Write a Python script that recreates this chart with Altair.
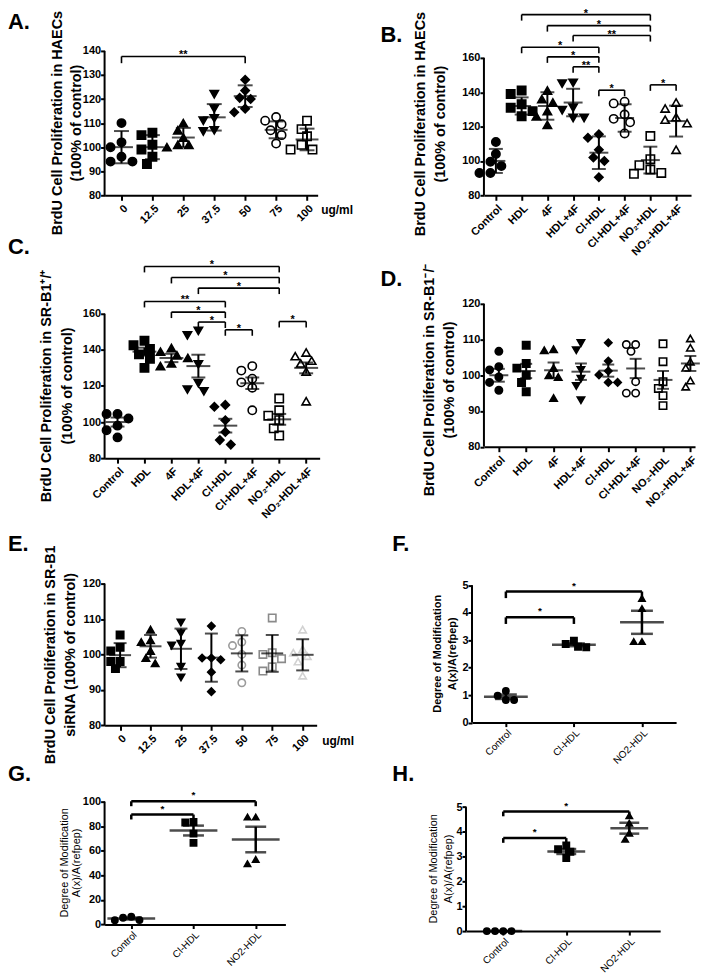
import json
import altair as alt
import pandas as pd

FONT = "Liberation Sans"

# ---------------- categories ----------------
DOSE = ["0", "12.5", "25", "37.5", "50", "75", "100"]
TREAT = ["Control", "HDL", "4F", "HDL+4F", "Cl-HDL", "Cl-HDL+4F", "NO\u2082-HDL", "NO\u2082-HDL+4F"]
MOD = ["Control", "Cl-HDL", "NO2-HDL"]

# ---------------- panel A (HAECs, dose) ----------------
A_vals = [
    [110, 102, 100, 96, 94, 94],
    [106, 105, 101, 99, 96, 93],
    [110, 107, 104, 101, 100, 101],
    [122, 116, 112, 111, 107, 106.5],
    [128, 123.5, 120.5, 120, 116, 114.5],
    [112.5, 111, 109.5, 107, 105, 101.5],
    [111, 107.5, 104.5, 101, 99, 99],
]
A_mean = [100, 100, 104, 112.4, 121.2, 107.2, 103.2]
A_err = [6.7, 5, 4, 5.5, 4.5, 3.5, 4.5]
A_brackets = [(0, 4, 137.7, "**")]

# ---------------- panel B (HAECs, treatments) ----------------
B_vals = [
    [111, 104, 99.5, 97, 93, 93],
    [141, 139, 133, 131, 129, 126],
    [141, 136, 134, 129, 126, 121],
    [145.5, 145, 131, 129.5, 125, 125],
    [115.5, 113.5, 106.5, 102, 100, 90.5],
    [134.5, 133.5, 127, 124.5, 122.5, 116],
    [114.5, 101, 97.5, 95, 93, 92.5],
    [134, 130.5, 125.5, 124, 122, 106.5],
]
B_mean = [100, 132, 132, 134, 104.8, 125, 100.5, 123.2]
B_err = [7, 5, 8, 8, 9.5, 8, 7.8, 9]
B_brackets = [(1, 6, 185.2, "*"), (2, 6, 178.8, "*"), (3, 6, 173.0, "**"),
              (1, 4, 166.2, "*"), (2, 4, 160.6, "*"), (3, 4, 154.8, "**"),
              (4, 5, 141.2, "*"), (6, 7, 144.3, "*")]

# ---------------- panel C (SR-B1 +/+) ----------------
C_vals = [
    [104.5, 104.5, 102, 98, 95.5, 91.5],
    [145, 142.5, 140.5, 137.5, 135, 130],
    [141, 139, 137, 135.5, 132.5, 131],
    [150.5, 148, 132, 121.5, 118, 117],
    [109.5, 108.5, 101, 94.5, 90, 87.5],
    [131, 128.5, 124, 122, 119, 106.5],
    [113, 106.5, 103.5, 101, 96.5, 92.5],
    [138.5, 136.5, 134, 132.5, 128, 111.5],
]
C_mean = [100, 139, 135.5, 131, 98, 121.5, 101.5, 130]
C_err = [2.5, 2.2, 2.3, 6.3, 3.8, 3.2, 3.0, 3.0]
C_brackets = [(1, 6, 186.2, "*"), (2, 6, 180.1, "*"), (3, 6, 174.2, "*"),
              (1, 4, 166.8, "**"), (2, 4, 160.9, "*"), (3, 4, 155.4, "*"),
              (4, 5, 151.1, "*"), (6, 7, 155.7, "*")]

# ---------------- panel D (SR-B1 -/-) ----------------
D_vals = [
    [106.7, 102.4, 101.5, 99.5, 98, 95.8],
    [108.4, 103.3, 102, 100, 98, 95.4],
    [107, 107.3, 102, 100, 99.5, 93.6],
    [109, 107, 101.5, 99, 97, 93],
    [109.1, 104, 101.2, 100.1, 98, 98],
    [108.6, 108.6, 106.7, 98.2, 95, 95],
    [108.8, 103.8, 98.2, 96.3, 94.3, 91.5],
    [110.3, 107.7, 103.8, 102.1, 98.5, 96.8],
]
D_mean = [100, 101.2, 101.4, 101, 101.3, 101.9, 98.7, 103.3]
D_err = [1.8, 2, 2.2, 2.3, 1.7, 2.7, 2.5, 2.1]

# ---------------- panel E (SR-B1 siRNA, dose) ----------------
E_vals = [
    [105.5, 102, 101, 98, 98, 96],
    [107, 104, 103.5, 101, 99, 97.5],
    [109, 106, 103, 102.5, 96.5, 93.5],
    [108, 99, 99, 98.5, 95, 89.5],
    [106.5, 103.5, 102.5, 100, 97, 92],
    [110.3, 100.5, 100, 98.8, 96.5, 95.3],
    [107, 101.5, 100.5, 99.5, 98, 94],
]
E_mean = [99.8, 102.3, 101.6, 99.1, 100.3, 100.3, 99.9]
E_err = [3.4, 3.2, 5.7, 6.8, 5.1, 5.2, 4.4]

# ---------------- panels F, G, H (degree of modification) ----------------
F_vals = [[1.15, 0.98, 0.82, 0.82], [2.98, 2.86, 2.76, 2.74], [4.52, 4.15, 2.95, 2.95]]
F_mean = [0.94, 2.83, 3.65]
F_err = [0.08, 0.05, 0.42]
F_brackets = [(0, 2, 4.77, "*"), (0, 1, 3.83, "*")]

G_vals = [[6.3, 5.5, 3.6, 3.5], [83.5, 83, 74, 66.5], [87.5, 87.5, 53, 49.5]]
G_mean = [4.9, 76.5, 69.2]
G_err = [0.8, 4, 10.4]
G_brackets = [(0, 2, 100.3, "*"), (0, 1, 89.5, "*")]

H_vals = [[0, 0, 0, 0], [3.45, 3.3, 3.2, 2.95], [4.65, 4.35, 3.95, 3.7]]
H_mean = [0, 3.21, 4.15]
H_err = [0, 0.1, 0.22]
H_brackets = [(0, 2, 4.82, "*"), (0, 1, 3.75, "*")]

# ---------------- marker styles ----------------
SH_DOSE = ["circle", "square", "triangle-up", "triangle-down", "diamond", "circle", "square"]
FI_DOSE = ["black"] * 5 + ["transparent"] * 2
ST_DOSE = ["black"] * 7
SH_TREAT = ["circle", "square", "triangle-up", "triangle-down", "diamond", "circle", "square", "triangle-up"]
FI_TREAT = ["black"] * 5 + ["transparent"] * 3
ST_TREAT = ["black"] * 8
SH_E = ["square", "triangle-up", "triangle-down", "diamond", "circle", "square", "triangle-up"]
FI_E = ["black"] * 4 + ["transparent"] * 3
ST_E = ["black"] * 4 + ["#9b9b9b", "#8a8a8a", "#d2d2d2"]
SH_MOD = ["circle", "square", "triangle-up"]
FI_MOD = ["black"] * 3
ST_MOD = ["black"] * 3

BRDU = "BrdU Cell Proliferation in "
DEG = ["Degree of Modification", "A(x)/A(refpep)"]


def swarm(vals, ppy, d):
    """Pixel x-offsets that keep symbols of one group from overlapping."""
    step = 0.55 * d
    placed, offs = [], [0.0] * len(vals)
    for i in sorted(range(len(vals)), key=lambda k: -vals[k]):
        py = vals[i] * ppy
        px = 0.0
        for c in [0, -1, 1, -2, 2, -3, 3, -4, 4, -5, 5]:
            px = c * step
            if all((px - qx) ** 2 + (py - qy) ** 2 >= (0.9 * d) ** 2 for qx, qy in placed):
                break
        placed.append((px, py))
        offs[i] = px
    return offs


def panel(c):
    cats = c["cats"]
    n = len(cats)
    x0, x1 = c["xdom"]
    y0, y1 = c["ydom"]
    w, h = c["w"], c["h"]
    ppx = w / (x1 - x0)
    ppy = h / (y1 - y0)

    rows = []
    for i, vs in enumerate(c["vals"]):
        offs = swarm(vs, ppy, c["diam"])
        for v, o in zip(vs, offs):
            rows.append(dict(x=i + o / ppx, y=v, shape=c["shapes"][i],
                             fill=c["fills"][i], stroke=c["strokes"][i]))
    pts = pd.DataFrame(rows)
    st = pd.DataFrame(dict(x=list(range(n)), m=c["mean"],
                           lo=[m - e for m, e in zip(c["mean"], c["err"])],
                           hi=[m + e for m, e in zip(c["mean"], c["err"])]))
    caps = pd.concat([pd.DataFrame(dict(x=st["x"], y=st["lo"])),
                      pd.DataFrame(dict(x=st["x"], y=st["hi"]))])

    xs = alt.Scale(domain=[x0, x1], nice=False, zero=False)
    ys = alt.Scale(domain=[y0, y1], nice=False, zero=False)
    xax_kw = dict(values=list(range(n)),
                  labelExpr=json.dumps(cats, ensure_ascii=False) + "[datum.value]",
                  labelAngle=-45, labelAlign="right", labelBaseline="top",
                  labelFontSize=c["xlfs"], labelFontWeight=c["xlw"], labelPadding=c["xlp"],
                  tickSize=c["xts"], tickWidth=2, domainWidth=2, labelOverlap=False)
    if c.get("xtitle"):
        xax_kw.update(title=c["xtitle"], titleAngle=0, titleAlign="left", titleBaseline="middle",
                      titleX=c["xtx"], titleY=c["xty"], titleFontSize=12, titleFontWeight="bold")
    else:
        xax_kw.update(title=None)
    xax = alt.Axis(**xax_kw)
    yax = alt.Axis(values=c["yticks"], domain=False, title=c["ytitle"],
                   titleFontSize=c["tfs"], titleFontWeight=c["tfw"],
                   titleX=c["tx"], titleY=c["ty"], titleAngle=-90, titleAlign="center",
                   titleBaseline="alphabetic", titleLineHeight=c["tlh"],
                   labelFontSize=11, labelFontWeight="bold",
                   labelPadding=0, tickSize=4, tickWidth=2)

    def X(f):
        return alt.X(f, type="quantitative", scale=xs, axis=xax)

    def Y(f):
        return alt.Y(f, type="quantitative", scale=ys, axis=yax)

    layers = []
    yl = pd.DataFrame(dict(x=[x0], y=[c["yline"][0]], y2=[c["yline"][1]]))
    layers.append(alt.Chart(yl).mark_rule(color="black", strokeWidth=2).encode(
        x=X("x"), y=Y("y"), y2="y2"))
    layers.append(alt.Chart(pts).mark_point(size=c["msize"], strokeWidth=1.6, opacity=1, filled=True).encode(
        x=X("x"), y=Y("y"),
        shape=alt.Shape("shape:N", scale=None),
        fill=alt.Fill("fill:N", scale=None),
        stroke=alt.Stroke("stroke:N", scale=None)))
    lw = c["lw"]
    layers.append(alt.Chart(st).mark_rule(color="black", strokeWidth=lw).encode(
        x=X("x"), y=Y("lo"), y2="hi"))
    layers.append(alt.Chart(caps).mark_tick(color="black", orient="horizontal", size=c["cap"], thickness=lw).encode(
        x=X("x"), y=Y("y")))
    layers.append(alt.Chart(st).mark_tick(color="black", orient="horizontal", size=c["mlen"], thickness=lw).encode(
        x=X("x"), y=Y("m")))

    if c.get("brackets"):
        b = pd.DataFrame(c["brackets"], columns=["a", "b", "y", "s"])
        b["ylo"] = b["y"] - c["leg"]
        b["xm"] = (b["a"] + b["b"]) / 2
        legs = pd.concat([pd.DataFrame(dict(x=b["a"], y=b["y"], ylo=b["ylo"])),
                          pd.DataFrame(dict(x=b["b"], y=b["y"], ylo=b["ylo"]))])
        bw = c["bw"]
        layers.append(alt.Chart(b).mark_rule(color="black", strokeWidth=bw).encode(
            x=X("a"), x2="b", y=Y("y")))
        layers.append(alt.Chart(legs).mark_rule(color="black", strokeWidth=bw).encode(
            x=X("x"), y=Y("y"), y2="ylo"))
        layers.append(alt.Chart(b).mark_text(font=FONT, fontSize=c["sfs"], fontWeight="bold",
                                             baseline="alphabetic", dy=c["sdy"], color="black").encode(
            x=X("xm"), y=Y("y"), text="s:N"))

    lab = pd.DataFrame(dict(t=[c["letter"]]))
    layers.append(alt.Chart(lab).mark_text(font=FONT, fontSize=22, fontWeight="bold", align="left",
                                           baseline="alphabetic", color="black").encode(
        x=alt.value(c["lx"]), y=alt.value(c["ly"]), text="t:N"))
    return alt.layer(*layers).properties(width=w, height=h)


big = dict(msize=70, diam=10, lw=2, bw=1.6, sfs=11, sdy=2, xlw="bold", xlfs=11, xlp=2, xts=5,
           tfs=14.5, tfw="bold")
small = dict(msize=40, diam=7.5, lw=2.5, bw=2.5, sfs=10, sdy=-3, xlw="normal", xlfs=10, xlp=1, xts=4,
             tfs=11)

pA = panel(dict(big, letter="A.", cats=DOSE, vals=A_vals, mean=A_mean, err=A_err,
                shapes=SH_DOSE, fills=FI_DOSE, strokes=ST_DOSE,
                xdom=[-0.547, 6.344], w=214, ydom=[80, 140], h=145,
                yticks=[80, 90, 100, 110, 120, 130, 140], yline=[80, 140],
                ytitle=[BRDU + "HAECs", "(100% of control)"], tx=-43, ty=72, tlh=19,
                brackets=A_brackets, leg=2.8, mlen=23, cap=15,
                xtitle="ug/ml", xtx=217, xty=14, lx=-97, ly=-22))

pB = panel(dict(big, letter="B.", cats=TREAT, vals=B_vals, mean=B_mean, err=B_err,
                shapes=SH_TREAT, fills=FI_TREAT, strokes=ST_TREAT,
                xdom=[-0.464, 7.58], w=208, ydom=[80, 164.06], h=145,
                yticks=[80, 100, 120, 140, 160], yline=[80, 160],
                ytitle=[BRDU + "HAECs", "(100% of control)"], tx=-60, ty=73, tlh=20.5,
                brackets=B_brackets, leg=3.5, mlen=19, cap=14, lx=-104, ly=-9))

pC = panel(dict(big, letter="C.", cats=TREAT, vals=C_vals, mean=C_mean, err=C_err,
                shapes=SH_TREAT, fills=FI_TREAT, strokes=ST_TREAT,
                xdom=[-0.48, 7.5], w=216, ydom=[80, 165.5], h=155,
                yticks=[80, 100, 120, 140, 160], yline=[80, 160],
                ytitle=[BRDU + "SR-B1\u207a/\u207a", "(100% of control)"], tx=-54, ty=82, tlh=21,
                brackets=C_brackets, leg=3.3, mlen=24, cap=14, lx=-97, ly=-50))

pD = panel(dict(big, letter="D.", cats=TREAT, vals=D_vals, mean=D_mean, err=D_err,
                shapes=SH_TREAT, fills=FI_TREAT, strokes=ST_TREAT, msize=55, diam=8.5,
                xdom=[-0.545, 7.17], w=212, ydom=[80, 120], h=143.5,
                yticks=[80, 90, 100, 110, 120], yline=[80, 120],
                ytitle=[BRDU + "SR-B1\u207b/\u207b", "(100% of control)"], tx=-50.8, ty=76, tlh=20.7,
                mlen=19, cap=12, lx=-104, ly=-18))

pE = panel(dict(big, letter="E.", cats=DOSE, vals=E_vals, mean=E_mean, err=E_err,
                shapes=SH_E, fills=FI_E, strokes=ST_E, msize=55, diam=8.5,
                xdom=[-0.51, 6.46], w=213, ydom=[80, 120], h=142.3,
                yticks=[80, 90, 100, 110, 120], yline=[80, 120],
                ytitle=[BRDU + "SR-B1", "siRNA (100% of control)"], tx=-50.5, ty=71, tlh=20,
                mlen=22, cap=13, xtitle="ug/ml", xtx=218, xty=15, lx=-97, ly=-33))

pF = panel(dict(small, letter="F.", cats=MOD, vals=F_vals, mean=F_mean, err=F_err,
                shapes=SH_MOD, fills=FI_MOD, strokes=ST_MOD, tfw="bold",
                xdom=[-0.498, 2.502], w=205, ydom=[0, 5.058], h=139.6,
                yticks=[0, 1, 2, 3, 4, 5], yline=[0, 5],
                ytitle=DEG, tx=-32, ty=70, tlh=15,
                brackets=F_brackets, leg=0.24, mlen=44, cap=22, lx=-80, ly=-33))

pG = panel(dict(small, letter="G.", cats=MOD, vals=G_vals, mean=G_mean, err=G_err,
                shapes=SH_MOD, fills=FI_MOD, strokes=ST_MOD, tfw="normal",
                xdom=[-0.429, 2.477], w=181.6, ydom=[0, 100], h=123.4,
                yticks=[0, 20, 40, 60, 80, 100], yline=[0, 100],
                ytitle=DEG, tx=-37, ty=61, tlh=12.3,
                brackets=G_brackets, leg=4, mlen=48, cap=21, lx=-97, ly=-21))

pH = panel(dict(small, letter="H.", cats=MOD, vals=H_vals, mean=H_mean, err=H_err,
                shapes=SH_MOD, fills=FI_MOD, strokes=ST_MOD, tfw="normal",
                xdom=[-0.591, 2.49], w=195, ydom=[0, 5.22], h=130,
                yticks=[0, 1, 2, 3, 4, 5], yline=[0, 5],
                ytitle=DEG, tx=-29.5, ty=67, tlh=15,
                brackets=H_brackets, leg=0.19, mlen=38, cap=20, lx=-74, ly=-21))

r1 = alt.hconcat(pA, pB, spacing=28)
r2 = alt.hconcat(pC, pD, spacing=61)
r3 = alt.hconcat(pE, pF, spacing=39)
r4 = alt.hconcat(pG, pH, spacing=107)

chart = alt.vconcat(
    alt.vconcat(r1, r2, spacing=-22),
    alt.vconcat(r3, r4, spacing=-3),
    spacing=12,
).properties(padding={"top": -3, "left": 0, "right": 0, "bottom": 0}).configure_view(
    stroke=None
).configure_axis(
    grid=False, labelFont=FONT, titleFont=FONT, labelColor="black", titleColor="black",
    tickColor="black", domainColor="black",
)

chart.save("out.html", embed_options={"renderer": "svg", "actions": False})
